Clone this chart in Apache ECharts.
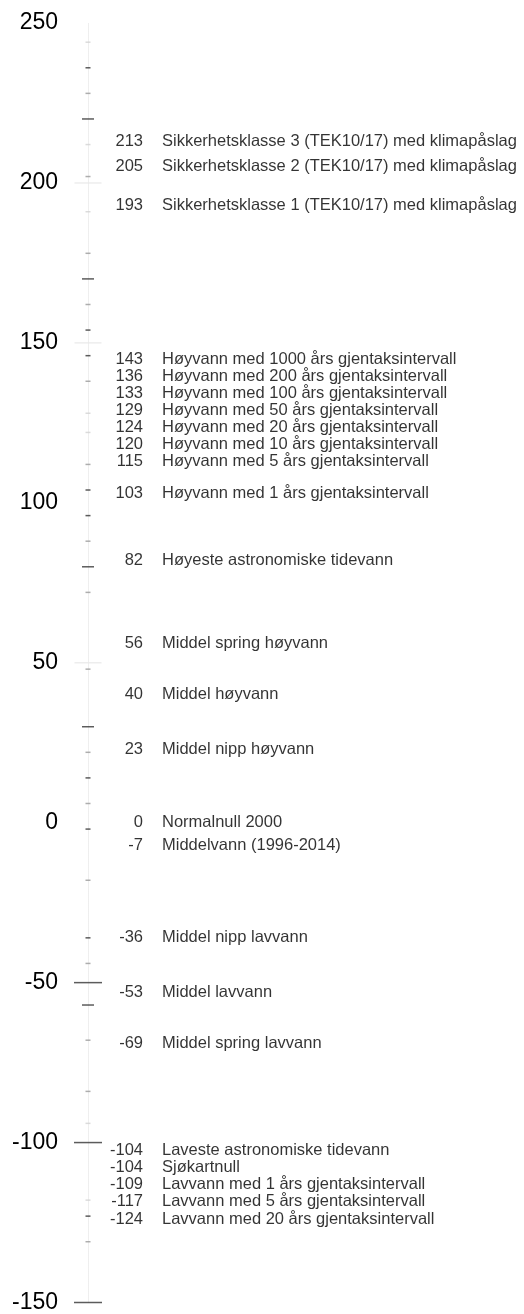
<!DOCTYPE html>
<html>
<head>
<meta charset="utf-8">
<script src="https://cdn.jsdelivr.net/npm/echarts@6/dist/echarts.min.js"></script>
<style>
html,body{margin:0;padding:0;background:#ffffff;}
#c{width:524px;height:1314px;}
</style>
</head>
<body>
<div id="c"></div>
<script>
// ---- data ----
const axisMin = -150;
const axisMax = 250;
const axisStep = 50;

const levelValues = [213, 205, 193, 143, 136, 133, 129, 124, 120, 115, 103, 82, 56, 40, 23, 0, -7, -36, -53, -69, -104, -104, -109, -117, -124];
const levelNames = [
  'Sikkerhetsklasse 3 (TEK10/17) med klimapåslag',
  'Sikkerhetsklasse 2 (TEK10/17) med klimapåslag',
  'Sikkerhetsklasse 1 (TEK10/17) med klimapåslag',
  'Høyvann med 1000 års gjentaksintervall',
  'Høyvann med 200 års gjentaksintervall',
  'Høyvann med 100 års gjentaksintervall',
  'Høyvann med 50 års gjentaksintervall',
  'Høyvann med 20 års gjentaksintervall',
  'Høyvann med 10 års gjentaksintervall',
  'Høyvann med 5 års gjentaksintervall',
  'Høyvann med 1 års gjentaksintervall',
  'Høyeste astronomiske tidevann',
  'Middel spring høyvann',
  'Middel høyvann',
  'Middel nipp høyvann',
  'Normalnull 2000',
  'Middelvann (1996-2014)',
  'Middel nipp lavvann',
  'Middel lavvann',
  'Middel spring lavvann',
  'Laveste astronomiske tidevann',
  'Sjøkartnull',
  'Lavvann med 1 års gjentaksintervall',
  'Lavvann med 5 års gjentaksintervall',
  'Lavvann med 20 års gjentaksintervall'
];

// scale marks
const faintTicks = [200, 150, 50];
const lightTicks = [244, 212, 191, 128, 122, -94, -118];
const grayTicks = [228, 202, 178, 162, 138, 112, 88, 72, 48, 22, 6, -18, -44, -68, -84, -131];
const darkTicks = [236, 154, 146, 104, 96, 14, -2, -36, -123];
const longTicks = [220, 170, 80, 30, -57];
const majorTicks = [-50, -100, -150];

// ---- chart ----
const FONT = 'Liberation Sans';
const chart = echarts.init(document.getElementById('c'), null, {renderer: 'canvas'});

function tickSeries(id, values, w, color) {
  return {
    id: id, type: 'scatter', symbol: 'rect', symbolSize: [w, 1.5],
    itemStyle: {color: color}, silent: true, clip: false, z: 2,
    data: values.map(v => [0, v])
  };
}

const labelStyle = {fontSize: 16.5, fontFamily: FONT, color: '#000', lineHeight: 17, verticalAlign: 'middle'};

chart.setOption({
  animation: false,
  backgroundColor: '#ffffff',
  grid: {left: 88, right: 0, top: 23, bottom: 11},
  xAxis: {type: 'value', min: 0, max: 436, show: false},
  yAxis: {
    type: 'value', min: axisMin, max: axisMax, interval: axisStep,
    axisLine: {show: true, lineStyle: {color: '#ededed', type: 'dotted', width: 1}},
    axisTick: {show: false},
    splitLine: {show: false},
    axisLabel: {margin: 30, fontSize: 23, fontFamily: FONT, color: '#000'}
  },
  series: [
    tickSeries('faint', faintTicks, 27, '#e8e8e8'),
    tickSeries('light', lightTicks, 5, '#d2d2d2'),
    tickSeries('gray', grayTicks, 5, '#9a9a9a'),
    tickSeries('dark', darkTicks, 5, '#333333'),
    tickSeries('long', longTicks, 12, '#333333'),
    tickSeries('major', majorTicks, 28, '#333333'),
    {
      id: 'levels', type: 'scatter', symbolSize: 2, clip: false, z: 3,
      itemStyle: {color: 'rgba(0,0,0,0)'},
      data: levelValues.map(v => [0, v]),
      label: {
        show: true, position: 'right', distance: 4, color: '#000',
        formatter: p => '{n|' + levelValues[p.dataIndex] + '}{t|' + levelNames[p.dataIndex] + '}',
        rich: {
          n: Object.assign({width: 50, align: 'right'}, labelStyle),
          t: Object.assign({align: 'right', padding: [0, 0, 0, 19]}, labelStyle)
        }
      }
    }
  ]
});

// spread labels that would overlap (cluster dodge, centred on each cluster)
const H = 17;
const ideal = levelValues.map(v => chart.convertToPixel({gridIndex: 0}, [0, v])[1]);
const order = ideal.map((y, i) => i).sort((a, b) => ideal[a] - ideal[b]);
const clusters = [];
for (const i of order) {
  let c = {idx: [i], lo: ideal[i], hi: ideal[i]};
  while (clusters.length) {
    const p = clusters[clusters.length - 1];
    const pBottom = (p.lo + p.hi) / 2 + (p.idx.length - 1) * H / 2;
    const cTop = (c.lo + c.hi) / 2 - (c.idx.length - 1) * H / 2;
    if (cTop - pBottom < H) {
      clusters.pop();
      c = {idx: p.idx.concat(c.idx), lo: p.lo, hi: Math.max(p.hi, c.hi)};
    } else break;
  }
  clusters.push(c);
}
const offsets = levelValues.map(() => 0);
for (const c of clusters) {
  const top = (c.lo + c.hi) / 2 - (c.idx.length - 1) * H / 2;
  c.idx.forEach((i, k) => { offsets[i] = top + k * H - ideal[i]; });
}
chart.setOption({
  series: [{
    id: 'levels',
    data: levelValues.map((v, i) => ({value: [0, v], label: {offset: [0, offsets[i]]}}))
  }]
});
</script>
</body>
</html>
